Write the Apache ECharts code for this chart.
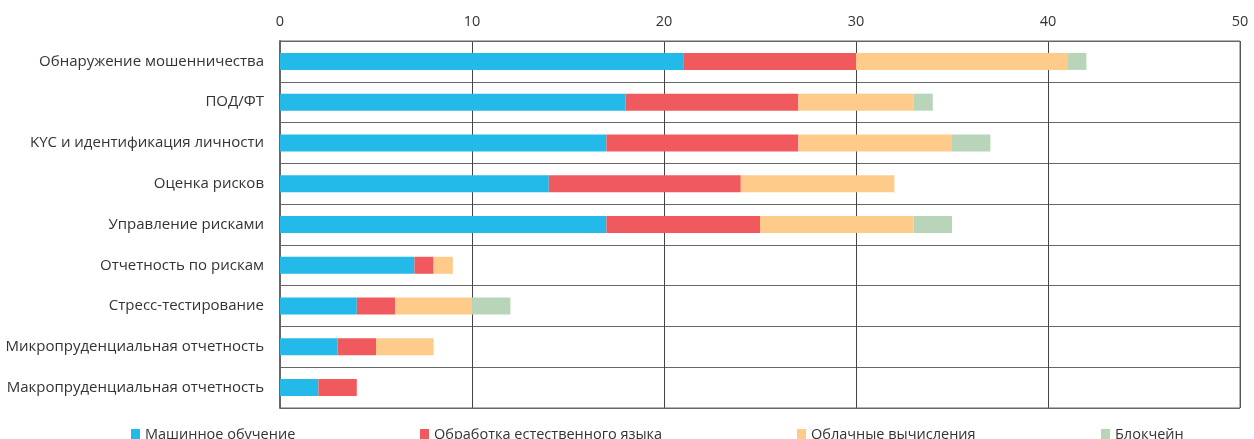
<!DOCTYPE html>
<html>
<head>
<meta charset="utf-8">
<script src="https://cdn.jsdelivr.net/npm/echarts@6/dist/echarts.min.js"></script>
<style>
  html, body { margin: 0; padding: 0; background: #fff; }
  #chart { width: 1254px; height: 439px; }
</style>
</head>
<body>
<div id="chart"></div>
<script>
// Application areas (top to bottom)
const categories = [
  'Обнаружение мошенничества',
  'ПОД/ФТ',
  'KYC и идентификация личности',
  'Оценка рисков',
  'Управление рисками',
  'Отчетность по рискам',
  'Стресс-тестирование',
  'Микропруденциальная отчетность',
  'Макропруденциальная отчетность'
];

const seriesNames = ['Машинное обучение', 'Обработка естественного языка', 'Облачные вычисления', 'Блокчейн'];

// Counts per technology, same order as categories
const machineLearning = [21, 18, 17, 14, 17, 7, 4, 3, 2];
const nlp             = [9, 9, 10, 10, 8, 1, 2, 2, 2];
const cloud           = [11, 6, 8, 8, 8, 1, 4, 3, 0];
const blockchain      = [1, 1, 2, 0, 2, 0, 2, 0, 0];

const xTicks = [0, 10, 20, 30, 40, 50];

const colors = ['#23B9E8', '#F05A5E', '#FECB8A', '#B8D5BA'];
const values = [machineLearning, nlp, cloud, blockchain];

const chart = echarts.init(document.getElementById('chart'));

const legendLeft = [126, 415, 792, 1096];

const gridBox = { left: 280, top: 41, right: 14, bottom: 31 };

chart.setOption({
  animation: false,
  color: colors,
  textStyle: { fontFamily: '"Open Sans", "Noto Sans", sans-serif' },
  grid: gridBox,
  legend: seriesNames.map((name, i) => ({
    data: [name],
    left: legendLeft[i],
    top: 422,
    itemWidth: 9,
    itemHeight: 11,
    itemGap: 4,
    icon: 'rect',
    textStyle: { fontSize: 14.5, color: '#333', padding: [4, 0, 0, 0] }
  })),
  xAxis: {
    type: 'value',
    position: 'top',
    min: xTicks[0],
    max: xTicks[xTicks.length - 1],
    interval: 10,
    axisLine: { show: true, lineStyle: { color: '#666', width: 1 } },
    axisTick: { show: false },
    axisLabel: { fontSize: 14.5, color: '#333', margin: 12 },
    splitLine: { show: true, lineStyle: { color: '#444', width: 1 } }
  },
  yAxis: {
    type: 'category',
    inverse: true,
    data: categories,
    axisLine: { show: true, lineStyle: { color: '#666', width: 2 } },
    axisTick: { show: false },
    axisLabel: { fontSize: 15, color: '#333', margin: 16 },
    splitLine: { show: true, lineStyle: { color: '#666', width: 1 } }
  },
  series: seriesNames.map((name, i) => ({
    name,
    type: 'bar',
    stack: 'total',
    barWidth: 17,
    data: values[i],
    itemStyle: { color: colors[i] }
  }))
});

// right and bottom border of the plot area
chart.setOption({
  graphic: [{
    type: 'rect',
    shape: { x: gridBox.left, y: gridBox.top, width: 1254 - gridBox.left - gridBox.right, height: 439 - gridBox.top - gridBox.bottom },
    style: { fill: 'none', stroke: '#666', lineWidth: 1 },
    silent: true,
    z: 0
  }]
});
</script>
</body>
</html>
